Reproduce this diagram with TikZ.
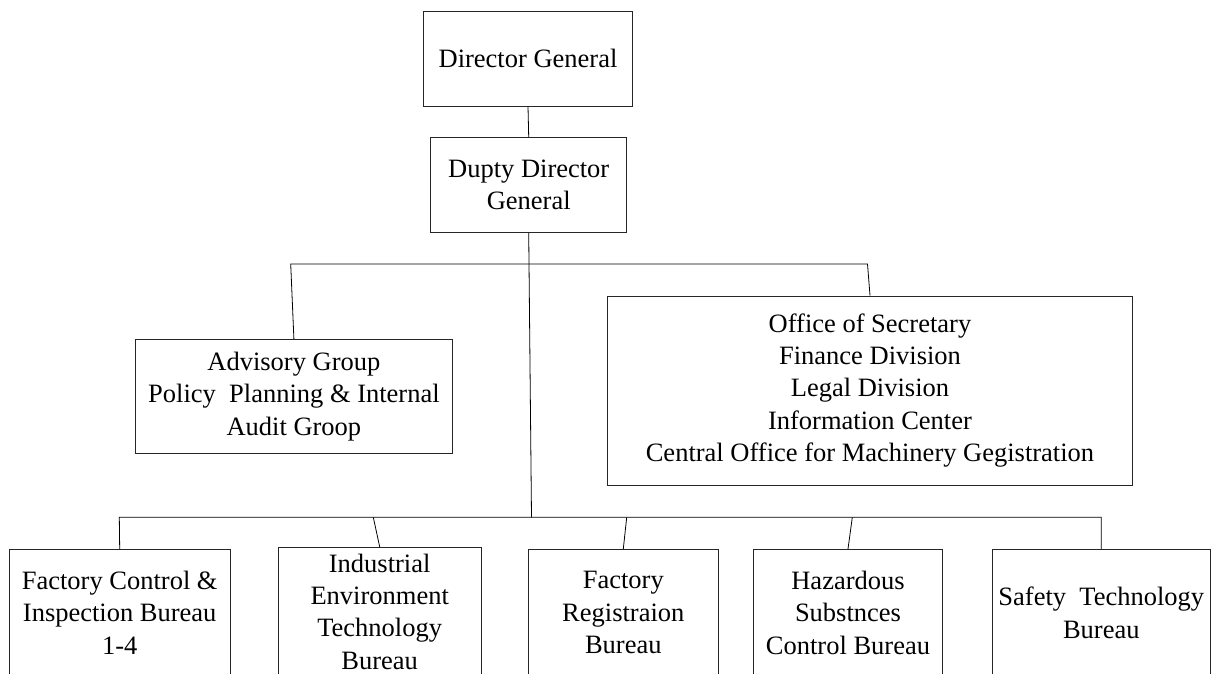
\documentclass[tikz,border=0pt]{standalone}
\usepackage{fontspec}
\setmainfont{Liberation Serif}
\begin{document}
\begin{tikzpicture}[x=1pt, y=-1pt,
  orgbox/.style={draw=black!85, line width=0.9pt, rectangle, inner sep=0pt,
    align=center, font=\fontsize{26.5}{32.3}\selectfont},
  link/.style={draw=black, line width=0.8pt}]
  \useasboundingbox (0,0) rectangle (1214,673);
  \clip (0,0) rectangle (1214,673);

  % top of the hierarchy
  \node[orgbox, minimum width=209.4pt, minimum height=95pt] (dg) at (528,58.5) {Director General};
  \node[orgbox, minimum width=196pt, minimum height=95pt] (ddg) at (528.7,184.8) {Dupty Director\\General};

  % staff units
  \node[orgbox, minimum width=316.3pt, minimum height=114.4pt] (adv) at (293.9,396.5)
    {Advisory Group\\Policy\ \ Planning \& Internal\\Audit Groop};
  \node[orgbox, minimum width=525.4pt, minimum height=189pt] (off) at (870,390.5)
    {Office of Secretary\\Finance Division\\Legal Division\\Information Center\\Central Office for Machinery Gegistration};

  % line bureaus (run past the lower edge)
  \node[orgbox, minimum width=220.7pt, minimum height=126.7pt] (b1) at (119.7,612.7)
    {Factory Control \&\\Inspection Bureau\\1-4};
  \node[orgbox, minimum width=202.7pt, minimum height=128.7pt] (b2) at (379.7,611.7)
    {Industrial\\Environment\\Technology\\Bureau};
  \node[orgbox, minimum width=190pt, minimum height=126.7pt] (b3) at (623.3,612.7)
    {Factory\\Registraion\\Bureau};
  \node[orgbox, minimum width=189.4pt, minimum height=126.7pt] (b4) at (848,612.7)
    {Hazardous\\Substnces\\Control Bureau};
  \node[orgbox, minimum width=218.5pt, minimum height=126.7pt] (b5) at (1101.3,612.7)
    {Safety\ \ Technology\\Bureau};

  % bar corners and junctions
  \coordinate (ul) at (290.7,264);
  \coordinate (ur) at (867.5,264);
  \coordinate (hub) at (531.5,517.3);
  \coordinate (l1) at (119.3,517.3);
  \coordinate (l2) at (373.3,517.3);
  \coordinate (l3) at (626.7,517.3);
  \coordinate (l4) at (852.3,517.3);
  \coordinate (l5) at (1101.3,517.3);

  % connectors
  \draw[link] (dg.south) -- (ddg.north);
  \draw[link] (ddg.south) -- (hub);
  \draw[link] (adv.north) -- (ul) -- (ur) -- (off.north);
  \draw[link] (b1.north) -- (l1) -- (l5) -- (b5.north);
  \draw[link] (l2) -- (b2.north);
  \draw[link] (l3) -- (b3.north);
  \draw[link] (l4) -- (b4.north);
\end{tikzpicture}
\end{document}
